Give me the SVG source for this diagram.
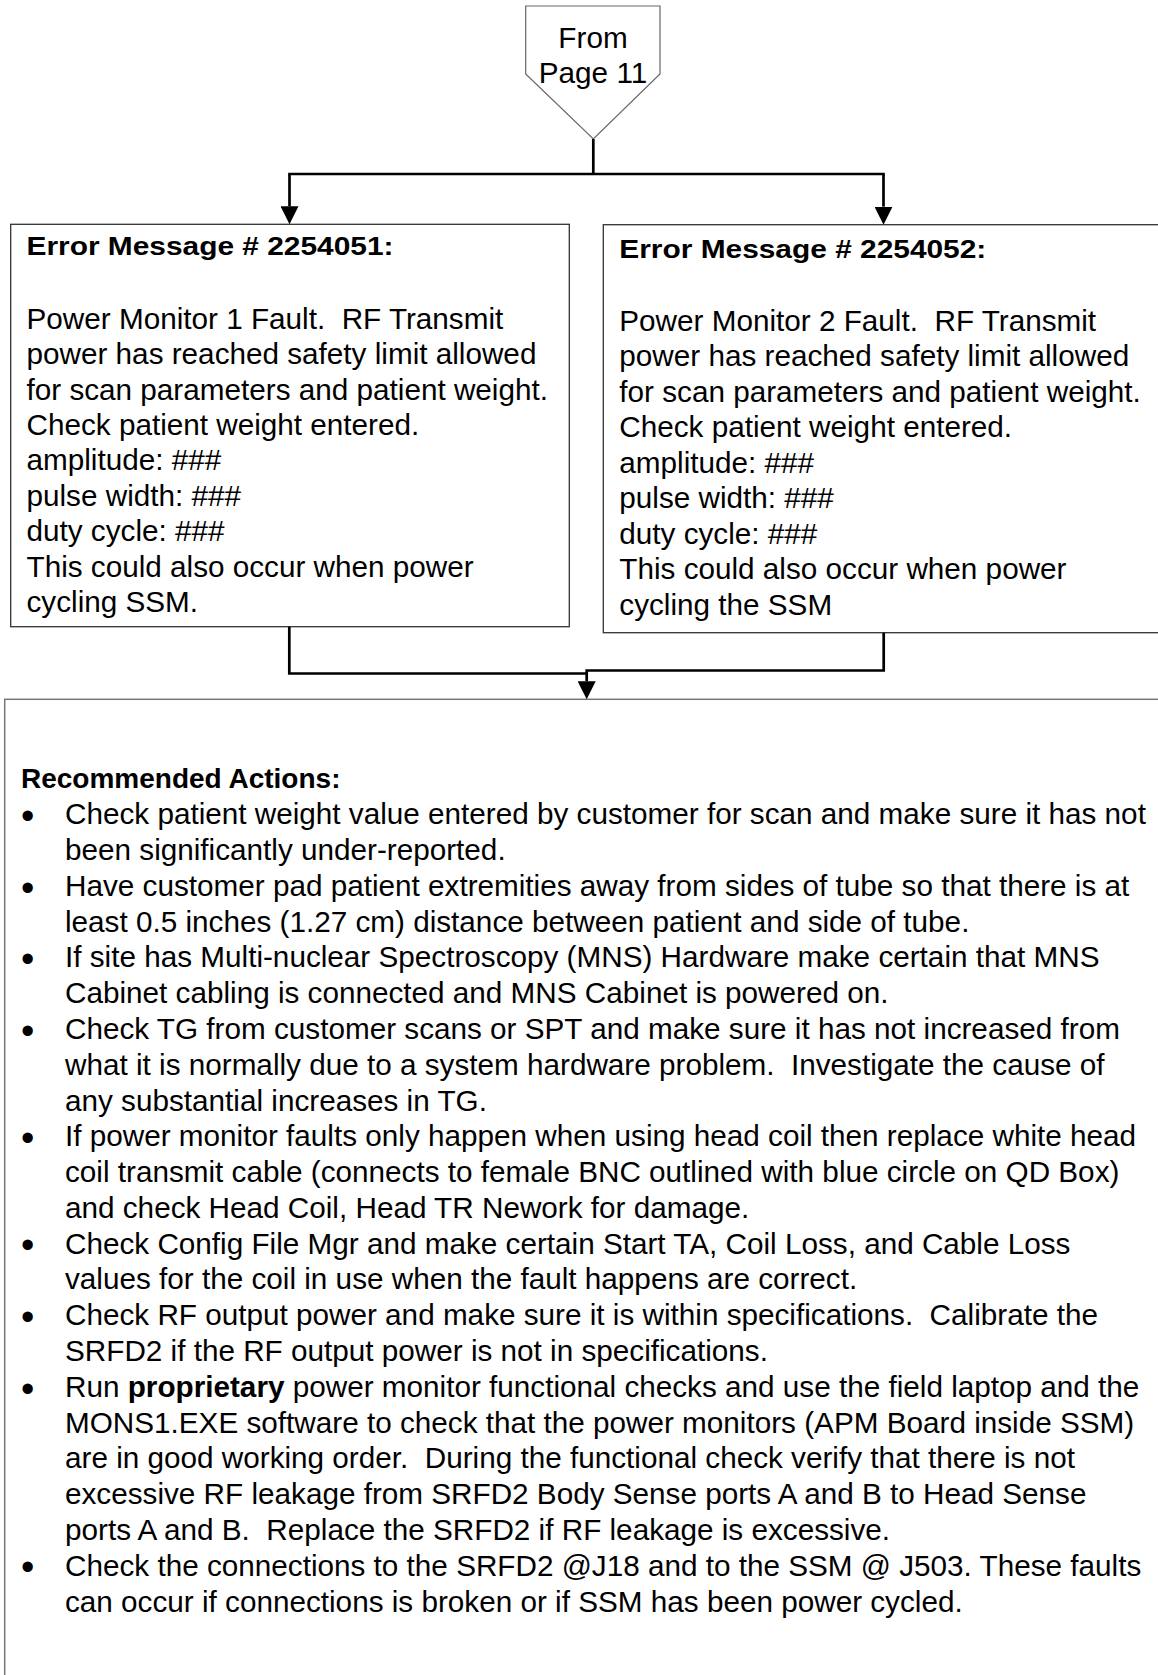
<svg xmlns="http://www.w3.org/2000/svg" width="1158" height="1675" viewBox="0 0 1158 1675">
  <style>
    .t { font-family: "Liberation Sans", Arial, Helvetica, sans-serif; font-size: 29.7px; fill: #000; white-space: pre; }
    .hd { font-weight: bold; font-size: 25px; }
    .bd { font-weight: bold; }
    .rec { font-weight: bold; font-size: 28px; }
    .bul { font-size: 38px; }
    .box { fill: #fff; stroke: #333; stroke-width: 1.3; }
    .big { fill: #fff; stroke: #777; stroke-width: 1.5; }
    .conn { fill: none; stroke: #000; stroke-width: 2.7; }
  </style>
  <defs>
    <marker id="arrow" viewBox="0 0 18 18" refX="0" refY="9" markerWidth="18" markerHeight="18" markerUnits="userSpaceOnUse" orient="auto">
      <path d="M0,0 L18,9 L0,18 z" fill="#000"/>
    </marker>
  </defs>

  <rect width="1158" height="1675" fill="#fff"/>

  <!-- off-page connector -->
  <g id="from-page-11">
    <polygon points="525.7,6 660,6 660,74 593.3,139 525.7,74" fill="#fff" stroke="#666" stroke-width="1.2"/>
    <text class="t" x="593" y="47.7" text-anchor="middle" font-size="28.5px">From</text>
    <text class="t" x="593" y="83.3" text-anchor="middle" font-size="28.5px">Page 11</text>
  </g>

  <!-- error 2254051 -->
  <g id="error-2254051">
    <rect class="box" x="10.7" y="224.3" width="558.6" height="402.4"/>
    <text class="t hd" x="26.5" y="255" textLength="367" lengthAdjust="spacingAndGlyphs">Error Message # 2254051:</text>
    <text class="t" x="26.5" y="329">Power Monitor 1 Fault.  RF Transmit</text>
    <text class="t" x="26.5" y="364.4">power has reached safety limit allowed</text>
    <text class="t" x="26.5" y="399.7">for scan parameters and patient weight.</text>
    <text class="t" x="26.5" y="435.1">Check patient weight entered.</text>
    <text class="t" x="26.5" y="470.4">amplitude: ###</text>
    <text class="t" x="26.5" y="505.8">pulse width: ###</text>
    <text class="t" x="26.5" y="541.1">duty cycle: ###</text>
    <text class="t" x="26.5" y="576.5">This could also occur when power</text>
    <text class="t" x="26.5" y="612">cycling SSM.</text>
  </g>

  <!-- error 2254052 -->
  <g id="error-2254052">
    <rect class="box" x="603.3" y="224.7" width="560" height="408"/>
    <text class="t hd" x="619.3" y="258.3" textLength="367" lengthAdjust="spacingAndGlyphs">Error Message # 2254052:</text>
    <text class="t" x="619.3" y="330.5">Power Monitor 2 Fault.  RF Transmit</text>
    <text class="t" x="619.3" y="366.1">power has reached safety limit allowed</text>
    <text class="t" x="619.3" y="401.6">for scan parameters and patient weight.</text>
    <text class="t" x="619.3" y="437.2">Check patient weight entered.</text>
    <text class="t" x="619.3" y="472.7">amplitude: ###</text>
    <text class="t" x="619.3" y="508.3">pulse width: ###</text>
    <text class="t" x="619.3" y="543.8">duty cycle: ###</text>
    <text class="t" x="619.3" y="579.4">This could also occur when power</text>
    <text class="t" x="619.3" y="614.9">cycling the SSM</text>
  </g>

  <!-- recommended actions -->
  <g id="recommended-actions">
    <rect class="big" x="4.7" y="699.3" width="1160" height="990"/>
    <text class="t rec" x="21" y="788.3">Recommended Actions:</text>
    <g>
      <text class="t bul" x="21" y="829">•</text>
      <text class="t bul" x="21" y="900.6">•</text>
      <text class="t bul" x="21" y="972.1">•</text>
      <text class="t bul" x="21" y="1043.7">•</text>
      <text class="t bul" x="21" y="1151">•</text>
      <text class="t bul" x="21" y="1258.4">•</text>
      <text class="t bul" x="21" y="1329.9">•</text>
      <text class="t bul" x="21" y="1401.5">•</text>
      <text class="t bul" x="21" y="1580.4">•</text>
    </g>
    <text class="t" x="65" y="824.3">Check patient weight value entered by customer for scan and make sure it has not</text>
    <text class="t" x="65" y="860.1">been significantly under-reported.</text>
    <text class="t" x="65" y="895.9">Have customer pad patient extremities away from sides of tube so that there is at</text>
    <text class="t" x="65" y="931.6">least 0.5 inches (1.27 cm) distance between patient and side of tube.</text>
    <text class="t" x="65" y="967.4">If site has Multi-nuclear Spectroscopy (MNS) Hardware make certain that MNS</text>
    <text class="t" x="65" y="1003.2">Cabinet cabling is connected and MNS Cabinet is powered on.</text>
    <text class="t" x="65" y="1039">Check TG from customer scans or SPT and make sure it has not increased from</text>
    <text class="t" x="65" y="1074.8">what it is normally due to a system hardware problem.  Investigate the cause of</text>
    <text class="t" x="65" y="1110.5">any substantial increases in TG.</text>
    <text class="t" x="65" y="1146.3">If power monitor faults only happen when using head coil then replace white head</text>
    <text class="t" x="65" y="1182.1">coil transmit cable (connects to female BNC outlined with blue circle on QD Box)</text>
    <text class="t" x="65" y="1217.9">and check Head Coil, Head TR Nework for damage.</text>
    <text class="t" x="65" y="1253.7">Check Config File Mgr and make certain Start TA, Coil Loss, and Cable Loss</text>
    <text class="t" x="65" y="1289.4">values for the coil in use when the fault happens are correct.</text>
    <text class="t" x="65" y="1325.2">Check RF output power and make sure it is within specifications.  Calibrate the</text>
    <text class="t" x="65" y="1361">SRFD2 if the RF output power is not in specifications.</text>
    <text class="t" x="65" y="1396.8">Run <tspan class="bd">proprietary</tspan> power monitor functional checks and use the field laptop and the</text>
    <text class="t" x="65" y="1432.6">MONS1.EXE software to check that the power monitors (APM Board inside SSM)</text>
    <text class="t" x="65" y="1468.3">are in good working order.  During the functional check verify that there is not</text>
    <text class="t" x="65" y="1504.1">excessive RF leakage from SRFD2 Body Sense ports A and B to Head Sense</text>
    <text class="t" x="65" y="1539.9">ports A and B.  Replace the SRFD2 if RF leakage is excessive.</text>
    <text class="t" x="65" y="1575.7">Check the connections to the SRFD2 @J18 and to the SSM @ J503. These faults</text>
    <text class="t" x="65" y="1611.5">can occur if connections is broken or if SSM has been power cycled.</text>
  </g>

  <!-- connectors -->
  <g id="connectors">
    <path class="conn" d="M593.3,139 V174"/>
    <path class="conn" d="M288.2,174 H884.8"/>
    <path class="conn" d="M289.5,174 V206.3" marker-end="url(#arrow)"/>
    <path class="conn" d="M883.5,174 V206.7" marker-end="url(#arrow)"/>
    <path class="conn" d="M289.3,626.7 V673.5 H586.7"/>
    <path class="conn" d="M883.7,632.7 V670.5 H586.7 V681.3" marker-end="url(#arrow)"/>
  </g>
</svg>
